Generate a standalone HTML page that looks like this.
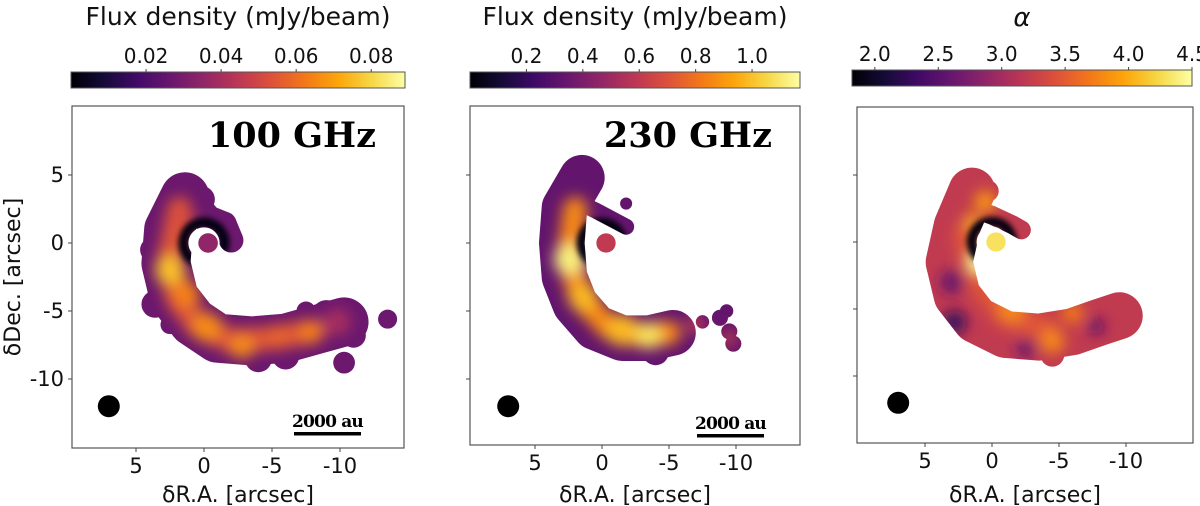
<!DOCTYPE html>
<html><head><meta charset="utf-8">
<style>
html,body{margin:0;padding:0;background:#fff;}
svg{display:block;font-family:"DejaVu Sans","Liberation Sans",sans-serif;}
</style></head>
<body>
<svg id="fig" width="1200" height="506" viewBox="0 0 1200 506"></svg>
<script>
// ---- data ----
const xTicks = [5, 0, -5, -10];
const yTicks = [5, 0, -5, -10];
const cbTicks1 = [0.02, 0.04, 0.06, 0.08];
const cbTicks2 = [0.2, 0.4, 0.6, 0.8, 1.0];
const cbTicks3 = [2.0, 2.5, 3.0, 3.5, 4.0, 4.5];
const cbLabels1 = ["0.02","0.04","0.06","0.08"];
const cbLabels2 = ["0.2","0.4","0.6","0.8","1.0"];
const cbLabels3 = ["2.0","2.5","3.0","3.5","4.0","4.5"];

const spine1 = [[1.4,3.4],[2.6,1.0],[2.8,-1.5],[2.2,-4],[0.8,-5.8],[-1,-7],[-3.5,-7.2],[-6,-7.0],[-8.5,-6.3],[-10.3,-5.8]];
const arm1 = [[1.5,2.5],[0,2.0],[-1.5,1.4],[-2.0,0.2]];
const blobs1 = [[1.4,3.6,1.3],[0.2,3.2,1.0],[0,2.0,1.1],[-1.5,1.4,0.9],[-2,0.4,0.6],[3.6,-4.5,1.0],[2.5,-6,0.7],[-4,-8.5,1.0],[-6,-8.3,1.0],[-9,-5.3,1.1],[-10.7,-5.6,1.2],[-11,-6.8,0.9],[-13.5,-5.6,0.7],[-10.3,-8.8,0.8],[-7.5,-5.0,0.7],[3.8,-0.5,0.9]];
const ridge1 = [[1.8,2.5],[2.5,-1],[2.0,-4],[0.5,-6],[-2,-7.2],[-5,-7],[-8,-6.5]];
const hot1 = [[2.5,-2,1.1,0.076],[1.3,-3.8,1.0,0.064],[-0.2,-6.2,1.1,0.066],[-2.8,-7.6,0.9,0.066],[-7.8,-6.5,0.8,0.064],[-5.5,-6.8,0.8,0.058],[1.5,1.8,0.8,0.052],[-9.8,-5.8,1.0,0.04]];

const spine2 = [[1.5,4.8],[2.8,2.6],[3.0,0],[2.8,-2.5],[2.0,-4.5],[0.5,-6.2],[-1.5,-7],[-3.5,-7],[-5.3,-6.6]];
const arm2 = [[2.2,3.2],[0.5,2.4],[-1.8,1.2]];
const blobs2 = [[1.5,5.0,1.0],[3.6,-1,1.0],[-4,-8,1.0],[-6,-6.2,0.7],[-7.5,-5.8,0.5],[-8.8,-5.5,0.6],[-9.5,-6.5,0.6],[-9.8,-7.4,0.6],[-9.3,-5.0,0.5],[-1.8,2.9,0.45]];
const ridge2 = [[2.0,2.5],[2.5,-1],[1.6,-4],[-0.5,-6.2],[-3,-6.8],[-5,-6.6]];
const hot2 = [[2.4,-1.2,1.2,1.12],[1.4,-4,1.1,0.98],[-1.5,-6.4,1.2,0.98],[-3.5,-6.8,1.0,1.08],[-7,-6,0.7,0.6],[-9.5,-7,0.6,0.62]];

const spine3 = [[1.5,3.8],[2.6,1.2],[3.2,-1.5],[2.6,-4],[1.2,-5.8],[-1,-6.9],[-3.5,-7.1],[-6,-6.7],[-8,-6.0],[-9.5,-5.5]];
const arm3 = [[1.5,2.5],[0,2.0],[-1.5,1.3],[-2.2,0.9]];
const blobs3 = [[1.5,3.8,1.1],[0.3,3.8,0.8],[4.0,-1.8,0.9],[-4.5,-8.4,0.9],[-9.3,-5.5,0.8]];
const ridge3 = [[2.0,0.5],[1.0,-3],[-1,-5.5],[-4,-6.5]];
const hot3 = [[1,-1.5,0.8,4.5],[0.5,3,0.8,3.9],[-1.5,-5,1,3.8],[-4.5,-7.4,0.9,3.8],[2.8,-6,0.9,2.3],[3,-3,0.9,2.6],[-6,-5.3,0.8,3.7],[-7.8,-6.3,0.6,2.5],[1.5,1.5,0.6,4.0],[-2.5,-8,0.7,2.6]];

const NS = "http://www.w3.org/2000/svg";
const svg = document.getElementById('fig');
const inferno = ["#000004","#160b39","#420a68","#6a176e","#932667","#bc3754","#dd513a","#f37819","#fca50a","#f6d746","#fcffa4"];
function hex(c){return [parseInt(c.substr(1,2),16),parseInt(c.substr(3,2),16),parseInt(c.substr(5,2),16)];}
function cmap(t){t=Math.max(0,Math.min(1,t));const f=t*10,i=Math.min(9,Math.floor(f)),u=f-i;const a=hex(inferno[i]),b=hex(inferno[i+1]);return "rgb("+a.map((v,k)=>Math.round(v+(b[k]-v)*u)).join(",")+")";}
function el(tag,attrs,parent){const e=document.createElementNS(NS,tag);for(const k in attrs)e.setAttribute(k,attrs[k]);(parent||svg).appendChild(e);return e;}

const defs = el('defs',{});
const grad = el('linearGradient',{id:'inf',x1:0,x2:1,y1:0,y2:0},defs);
inferno.forEach((c,i)=>el('stop',{offset:(i*10)+'%','stop-color':c},grad));
const blur = el('filter',{id:'blur',x:'-50%',y:'-50%',width:'200%',height:'200%'},defs);
el('feGaussianBlur',{stdDeviation:7},blur);
const blur2 = el('filter',{id:'blur2',x:'-50%',y:'-50%',width:'200%',height:'200%'},defs);
el('feGaussianBlur',{stdDeviation:3},blur2);

const panels = [
 {fx0:72,fx1:404,fy0:106,fy1:448,x0:204,sx:13.6,y0:243,sy:13.6,cb:[71,405],cbT:72,vmin:0,vmax:0.089,ticks:cbTicks1,labels:cbLabels1,title:"100 GHz",cbTitle:"Flux density (mJy/beam)",yaxis:true,spine:spine1,arm:arm1,blobs:blobs1,ridge:ridge1,ridgeV:0.054,hot:hot1,base:0.027,w:3.6,aw:1.8,center:0.035,scale:[294,361,432]},
 {fx0:470,fx1:800,fy0:106,fy1:445,x0:602,sx:13.4,y0:243,sy:13.6,cb:[470,800],cbT:72,vmin:0,vmax:1.17,ticks:cbTicks2,labels:cbLabels2,title:"230 GHz",cbTitle:"Flux density (mJy/beam)",yaxis:false,spine:spine2,arm:arm2,blobs:blobs2,ridge:ridge2,ridgeV:0.86,hot:hot2,base:0.33,w:3.4,aw:1.2,center:0.6,scale:[697,764,434]},
 {fx0:857,fx1:1193,fy0:107,fy1:443,x0:992,sx:13.4,y0:242,sy:13.4,cb:[852,1192],cbT:70,vmin:1.82,vmax:4.5,ticks:cbTicks3,labels:cbLabels3,title:null,cbTitle:"α",yaxis:false,spine:spine3,arm:arm3,blobs:blobs3,ridge:ridge3,ridgeV:3.45,hot:hot3,base:3.2,w:3.5,aw:1.4,center:4.3,scale:null}
];

panels.forEach((p,pi)=>{
  const g = el('g',{});
  
  
  const X = ra => p.x0 - p.sx*ra;
  const Y = dec => p.y0 - p.sy*dec;
  const C = v => cmap((v-p.vmin)/(p.vmax-p.vmin));
  const cbW = p.cb[1]-p.cb[0];
  const cbr = el('rect',{x:p.cb[0],y:p.cbT,width:cbW,height:16,fill:'url(#inf)',stroke:'#555','stroke-width':1},g);
  
  
  const CBX = v => p.cb[0] + (v-p.vmin)/(p.vmax-p.vmin)*cbW;
  p.ticks.forEach((v,i)=>{
    el('line',{x1:CBX(v),x2:CBX(v),y1:p.cbT-3,y2:p.cbT,stroke:'#444','stroke-width':1},g);
    const t = el('text',{x:CBX(v),y:p.cbT-9,'text-anchor':'middle','font-size':20,fill:'#111'},g);
    t.textContent = p.labels[i];
    
    
  });
  const ct = el('text',{x:(p.cb[0]+p.cb[1])/2,y:pi==2?26:25,'text-anchor':'middle','font-size':pi==2?26:25,'font-style':pi==2?'italic':'normal',fill:'#111'},g);
  ct.textContent = p.cbTitle;
  
  

  const mid = 'm'+pi;
  const mask = el('mask',{id:mid,maskUnits:'userSpaceOnUse',x:0,y:0,width:1200,height:506},defs);
  const toPts = a => a.map(q=>X(q[0])+','+Y(q[1])).join(' ');
  el('polyline',{points:toPts(p.spine),fill:'none',stroke:'#fff','stroke-width':p.w*p.sx,'stroke-linejoin':'round','stroke-linecap':'round'},mask);
  el('polyline',{points:toPts(p.arm),fill:'none',stroke:'#fff','stroke-width':p.aw*p.sx,'stroke-linejoin':'round','stroke-linecap':'round'},mask);
  p.blobs.forEach(b=>el('circle',{cx:X(b[0]),cy:Y(b[1]),r:b[2]*p.sx,fill:'#fff'},mask));
  el('circle',{cx:X(0),cy:Y(0),r:1.15*p.sx,fill:'#000'},mask);

  const em = el('g',{mask:'url(#'+mid+')'},g);
  
  
  el('rect',{x:p.fx0,y:p.fy0,width:p.fx1-p.fx0,height:p.fy1-p.fy0,fill:C(p.base)},em);
  const hg = el('g',{filter:'url(#blur)'},em);
  const rl = el('polyline',{points:toPts(p.ridge),fill:'none',stroke:C(p.ridgeV),'stroke-width':1.8*p.sx,'stroke-linejoin':'round','stroke-linecap':'round'},hg);
  
  
  p.hot.forEach(h=>{
    const c = el('circle',{cx:X(h[0]),cy:Y(h[1]),r:h[2]*p.sx,fill:C(h[3])},hg);
    
    
  });
  const r = 1.5*p.sx, cx=X(0), cy=Y(0);
  const a0 = 120*Math.PI/180, a1 = 15*Math.PI/180;
  el('path',{d:`M${cx+r*Math.cos(a0)},${cy+r*Math.sin(a0)} A${r},${r} 0 1 1 ${cx+r*Math.cos(a1)},${cy+r*Math.sin(a1)}`,fill:'none',stroke:'#05020f','stroke-width':10,'stroke-linecap':'round',filter:'url(#blur2)'},em);
  const cb = el('circle',{cx:X(-0.3),cy:Y(0),r:0.72*p.sx,fill:C(p.center)},g);
  
  

  const fr = el('rect',{x:p.fx0,y:p.fy0,width:p.fx1-p.fx0,height:p.fy1-p.fy0,fill:'none',stroke:'#555','stroke-width':1.2},g);
  
  
  xTicks.forEach(v=>{
    el('line',{x1:X(v),x2:X(v),y1:p.fy1,y2:p.fy1+4,stroke:'#444'},g);
    const t = el('text',{x:X(v),y:p.fy1+25,'text-anchor':'middle','font-size':21,fill:'#111'},g);
    t.textContent = v;
    
    
  });
  yTicks.forEach(v=>{
    el('line',{x1:p.fx0-4,x2:p.fx0,y1:Y(v),y2:Y(v),stroke:'#444'},g);
    if(p.yaxis){
      const t = el('text',{x:p.fx0-8,y:Y(v)+7,'text-anchor':'end','font-size':21,fill:'#111'},g);
      t.textContent = v;
      
      
    }
  });
  const xl = el('text',{x:(p.fx0+p.fx1)/2,y:502,'text-anchor':'middle','font-size':22,fill:'#111'},g);
  xl.textContent = "δR.A. [arcsec]";
  
  
  if(p.yaxis){
    const yl = el('text',{x:0,y:0,'text-anchor':'middle','font-size':22,fill:'#111',transform:`translate(20,${(p.fy0+p.fy1)/2}) rotate(-90)`},g);
    yl.textContent = "δDec. [arcsec]";
    
    
  }
  if(p.title){
    const tt = el('text',{x:p.fx1-28,y:147,'text-anchor':'end','font-size':35,'font-weight':'bold','font-family':'"DejaVu Serif","Liberation Serif",serif',fill:'#000'},g);
    tt.textContent = p.title;
    
    
  }
  const beam = el('circle',{cx:X(7),cy:Y(-12),r:11,fill:'#000'},g);
  
  
  if(p.scale){
    const s = p.scale;
    el('rect',{x:s[0],y:s[2],width:s[1]-s[0],height:3.5,fill:'#000'},g);
    const st = el('text',{x:(s[0]+s[1])/2,y:s[2]-5,'text-anchor':'middle','font-size':17,'font-weight':'bold','letter-spacing':-0.8,'font-family':'"DejaVu Serif","Liberation Serif",serif',fill:'#000'},g);
    st.textContent = "2000 au";
    
    
  }
});
</script>
</body></html>
